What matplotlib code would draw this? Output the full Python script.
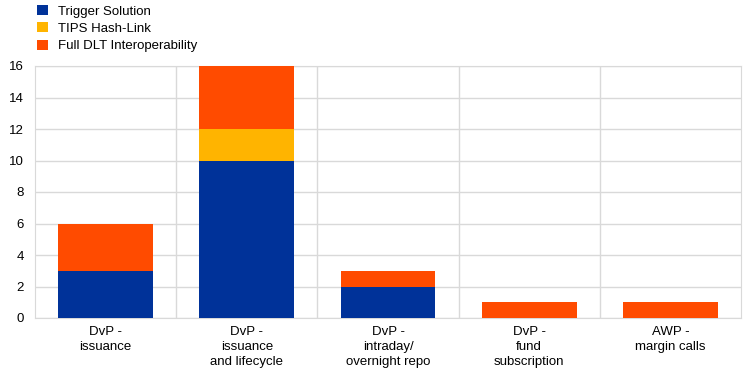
import numpy as np
import matplotlib.pyplot as plt

plt.rcParams['font.family'] = ['Liberation Sans', 'DejaVu Sans']

categories = ['DvP -\nissuance', 'DvP -\nissuance\nand lifecycle', 'DvP -\nintraday/\novernight repo',
              'DvP -\nfund\nsubscription', 'AWP -\nmargin calls']
trigger = [3, 10, 2, 0, 0]
tips = [0, 2, 0, 0, 0]
full_dlt = [3, 4, 1, 1, 1]

series = ['Trigger Solution', 'TIPS Hash-Link', 'Full DLT Interoperability']
colors = ['#003299', '#FFB400', '#FF4B00']

fig = plt.figure(figsize=(7.44, 3.74), dpi=100)
ax = fig.add_axes([35 / 744, 1 - 318 / 374, 706 / 744, 252 / 374])

x = np.arange(len(categories))
bottom = np.zeros(len(categories))
handles = []
for vals, name, c in zip([trigger, tips, full_dlt], series, colors):
    h = ax.bar(x, vals, bottom=bottom, width=0.67, color=c, label=name, zorder=3)
    handles.append(h)
    bottom += np.array(vals)

ax.set_xlim(-0.5, len(categories) - 0.5)
ax.set_ylim(0, 16)
ax.set_yticks(range(0, 17, 2))
ax.set_xticks(x)
ax.set_xticklabels(categories, fontsize=9.5, linespacing=1.3)
ax.tick_params(axis='both', length=0, labelsize=9.5)
ax.tick_params(axis='x', pad=6)
ax.tick_params(axis='y', pad=8)

grid_c = '#d9d9d9'
ax.yaxis.grid(True, color=grid_c, linewidth=1, zorder=0)
for b in np.arange(0.5, len(categories) - 0.5, 1):
    ax.axvline(b, color=grid_c, linewidth=1, zorder=0)
for s in ax.spines.values():
    s.set_color(grid_c)

fig.legend(handles=handles, labels=series, loc='upper left', bbox_to_anchor=(0.034, 1.018),
           frameon=False, fontsize=9.5, handlelength=0.8, handleheight=0.8,
           handletextpad=0.8, labelspacing=0.35)

fig.savefig('out.png', dpi=100)
